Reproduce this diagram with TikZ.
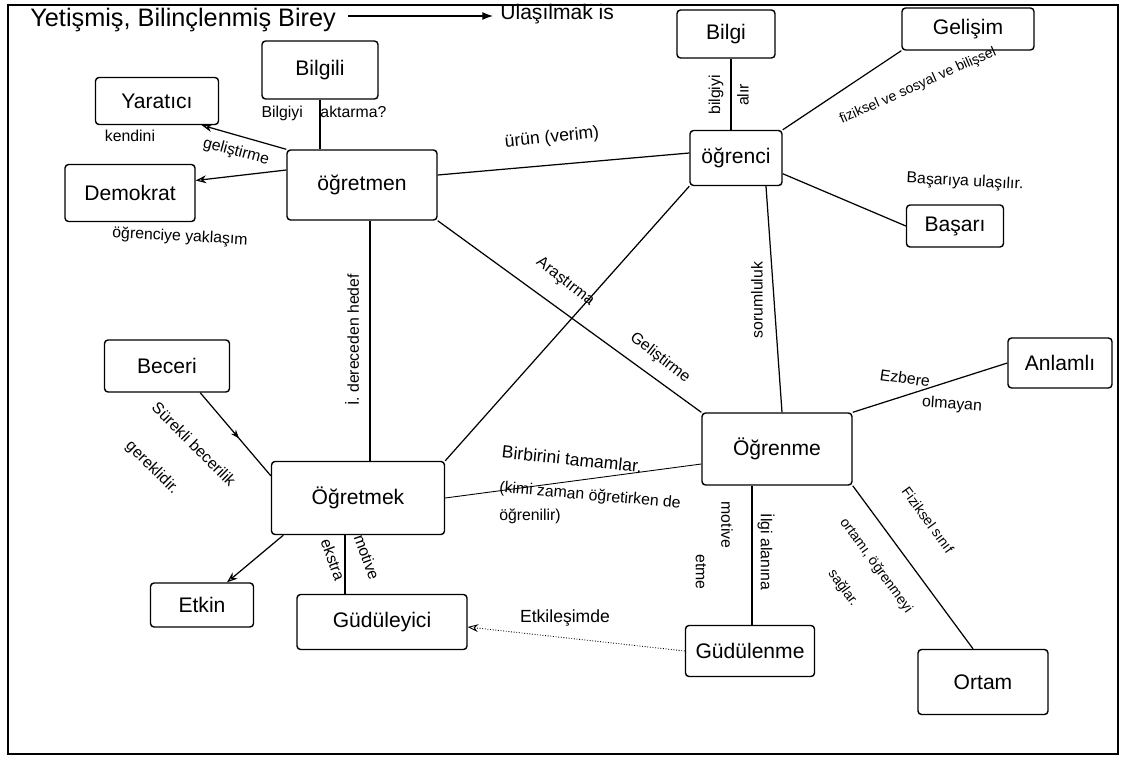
\documentclass[tikz,border=0pt]{standalone}
\usepackage{fontspec}
\setmainfont{Liberation Sans}
\usetikzlibrary{arrows.meta,decorations.markings}
\begin{document}
\begin{tikzpicture}[x=0.02cm,y=-0.02cm,
  box/.style={draw,line width=0.8pt,rounded corners=2pt,inner sep=0pt,font=\large},
  lbl/.style={inner sep=1pt,font=\small},
  edge/.style={line width=0.7pt},
  midarrow/.style={decoration={markings,mark=at position 0.55 with {\arrow{Stealth[length=5pt]}}},postaction={decorate}},
  ]
\clip (0,0) rectangle (1125,764);
\fill[white] (0,0) rectangle (1125,764);
\draw[line width=1pt] (8,5) rectangle (1118,754);

% title
\node[inner sep=0pt,font=\Large,anchor=west] (title) at (30,20) {Yetişmiş, Bilinçlenmiş Birey};
\node[inner sep=0pt,font=\large,anchor=west] (ulas) at (500,14) {Ulaşılmak is};
\draw[edge,-{Latex[length=6pt]}] (title.east) ++(12,-4) coordinate (tA) -- ([xshift=-4pt]ulas.west |- tA);

% nodes
\node[box,minimum width=2.32cm,minimum height=1.16cm] (bilgili) at (320,70) {Bilgili};
\node[box,minimum width=2.46cm,minimum height=0.94cm] (yaratici) at (157,101) {Yaratıcı};
\node[box,minimum width=2.6cm,minimum height=1.14cm] (demokrat) at (130,193) {Demokrat};
\node[box,minimum width=3.0cm,minimum height=1.4cm] (ogretmen) at (362,185) {öğretmen};
\node[box,minimum width=1.96cm,minimum height=0.96cm] (bilgi) at (726,34) {Bilgi};
\node[box,minimum width=2.64cm,minimum height=0.84cm] (gelisim) at (968,29) {Gelişim};
\node[box,minimum width=1.84cm,minimum height=1.1cm] (ogrenci) at (736,158) {öğrenci};
\node[box,minimum width=1.94cm,minimum height=0.84cm] (basari) at (955,226) {Başarı};
\node[box,minimum width=2.5cm,minimum height=1.04cm] (beceri) at (167,366) {Beceri};
\node[box,minimum width=3.46cm,minimum height=1.46cm] (ogretmek) at (358,498) {Öğretmek};
\node[box,minimum width=3.0cm,minimum height=1.44cm] (ogrenme) at (777,449) {Öğrenme};
\node[box,minimum width=2.08cm,minimum height=1.0cm] (anlamli) at (1060,363) {Anlamlı};
\node[box,minimum width=2.06cm,minimum height=0.88cm] (etkin) at (202,605) {Etkin};
\node[box,minimum width=3.4cm,minimum height=1.1cm] (guduleyici) at (382,622) {Güdüleyici};
\node[box,minimum width=2.58cm,minimum height=1.02cm] (gudulenme) at (750,651) {Güdülenme};
\node[box,minimum width=2.6cm,minimum height=1.3cm] (ortam) at (983,682) {Ortam};

% connectors
\draw[edge] (bilgili.south) -- (bilgili.south |- ogretmen.north);
\draw[edge,-{Stealth[length=6pt,open]}] (ogretmen.north west) -- ([xshift=-0.35cm]yaratici.south east);
\draw[edge,-{Stealth[length=6pt,open]}] ([yshift=0.3cm]ogretmen.west) -- ([yshift=0.25cm]demokrat.east);
\draw[edge] ([yshift=0.2cm]ogretmen.east) -- ([yshift=0.1cm]ogrenci.west);
\draw[edge] ([xshift=0.1cm]bilgi.south) -- ([xshift=0.1cm]bilgi.south |- ogrenci.north);
\draw[edge] (ogrenci.north east) -- (gelisim.south west);
\draw[edge] ([yshift=0.25cm]ogrenci.south east) -- (basari.west);
\draw[edge] ([xshift=0.16cm]ogretmen.south) -- ([xshift=0.16cm]ogretmen.south |- ogretmek.north);
\draw[edge] (ogretmen.south east) -- (ogrenme.north west);
\draw[edge] (ogrenci.south west) -- (ogretmek.north east);
\draw[edge] ([xshift=0.6cm]ogrenci.south) -- ([xshift=0.1cm]ogrenme.north);
\draw[edge,midarrow] ([xshift=-0.6cm]beceri.south east) -- ([yshift=-0.3cm]ogretmek.north west);
\draw[edge,-{Stealth[length=6pt,open]}] ([xshift=0.25cm]ogretmek.south west) -- ([xshift=0.5cm]etkin.north);
\draw[edge] ([xshift=-0.26cm]ogretmek.south) -- ([xshift=-0.26cm]ogretmek.south |- guduleyici.north);
\draw[line width=0.5pt,densely dotted,-{Stealth[length=6pt,open]}] (gudulenme.west) -- ([yshift=-0.1cm]guduleyici.east);
\draw[edge] ([xshift=-0.5cm]ogrenme.south) -- ([xshift=-0.5cm]ogrenme.south |- gudulenme.north);
\draw[edge] (ogrenme.north east) -- (anlamli.west);
\draw[edge] (ogrenme.south east) -- ([xshift=-0.2cm]ortam.north);
\draw[line width=0.5pt] (ogretmek.east) -- ([yshift=-0.3cm]ogrenme.west);

% labels
\node[lbl] (l1) at (324,113) {Bilgiyi\hspace{10pt}aktarma?};
\node[lbl] (l2a) at (130,136) {kendini};
\node[lbl,rotate=-15] (l2b) at (236,152) {geliştirme};
\node[lbl,rotate=-3] (l3) at (180,237) {öğrenciye yaklaşım};
\node[lbl,rotate=6,font=\normalsize] (l4) at (552,138) {ürün (verim)};
\node[lbl,rotate=90] (l5) at (716,95) {bilgiyi};
\node[lbl,rotate=90] (l6) at (743,95) {alır};
\node[lbl,rotate=24,font=\footnotesize] (l7) at (918,86) {fiziksel ve sosyal ve bilişsel};
\node[lbl,rotate=-3] (l8) at (965,182) {Başarıya ulaşılır.};
\node[lbl,rotate=90] (l9) at (352,340) {İ. dereceden hedef};
\node[lbl,rotate=-38] (l10) at (565,282) {Araştırma};
\node[lbl,rotate=-38] (l11) at (660,358) {Geliştirme};
\node[lbl,rotate=90] (l12) at (757,300) {sorumluluk};
\node[lbl,rotate=-45] (l13) at (194,444) {Sürekli becerilik};
\node[lbl,rotate=-45] (l14) at (152,468) {gereklidir.};
\node[lbl,rotate=-70] (l15) at (333,560) {ekstra};
\node[lbl,rotate=-70] (l16) at (367,557) {motive};
\node[lbl,rotate=-6,font=\normalsize] (l17) at (572,459) {Birbirini tamamlar.};
\node[lbl,rotate=-5] (l18) at (590,496) {(kimi zaman öğretirken de};
\node[lbl] (l19) at (530,516) {öğrenilir)};
\node[lbl,font=\normalsize] (l20) at (565,618) {Etkileşimde};
\node[lbl,rotate=-90] (l21) at (727,525) {motive};
\node[lbl,rotate=-90] (l22) at (701,572) {etme};
\node[lbl,rotate=-90] (l23) at (766,552) {İlgi alanına};
\node[lbl,rotate=-8] (l24) at (905,378) {Ezbere};
\node[lbl,rotate=-4] (l25) at (952,405) {olmayan};
\node[lbl,rotate=-54,font=\footnotesize] (l26) at (928,520) {Fiziksel sınıf};
\node[lbl,rotate=-54,font=\footnotesize] (l27) at (876,566) {ortamı, öğrenmeyi};
\node[lbl,rotate=-54,font=\footnotesize] (l28) at (843,588) {sağlar.};
\end{tikzpicture}
\end{document}
